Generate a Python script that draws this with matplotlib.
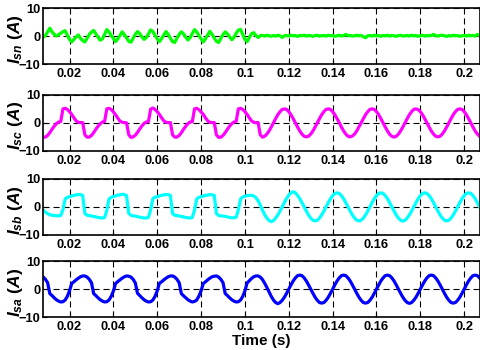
import numpy as np
import matplotlib
matplotlib.use('Agg')
import matplotlib.pyplot as plt

plt.rcParams['font.family'] = ['Liberation Sans', 'DejaVu Sans']
plt.rcParams['font.weight'] = 'bold'
plt.rcParams['mathtext.fontset'] = 'custom'
plt.rcParams['mathtext.it'] = 'Liberation Sans:bold:italic'
plt.rcParams['mathtext.rm'] = 'Liberation Sans:bold'
plt.rcParams['mathtext.bf'] = 'Liberation Sans:bold'

# sample times (s), 1 ms apart, 0.007 ... 0.207
time_s = np.round(np.arange(0.007, 0.2075, 0.001), 3)

# neutral current (A)
i_sn = [
    -0.3, -0.4, 0.2, 1.5, 2.8, 1.5, 0.6, 0.0, 0.5, 1.0, 1.6, 1.9, 0.3,        # 0.007-0.019
    -1.2, -2.1, -1.2, -0.3, 0.4, -0.8, -1.6, -2.1, -0.8, 0.6,                 # 0.020-0.029
    1.4, 2.0, 0.8, -0.4, -1.5, -1.0, 0.6, 2.3, 1.5, 0.2,                      # 0.030-0.039
    -0.8, -2.0, -1.0, 0.2, 1.5, 0.5, -0.6, -1.9, -2.2, -0.8,                  # 0.040-0.049
    0.6, 1.6, 0.9, -0.3, -1.2, -0.6, 0.8, 2.2, 1.6, 0.3,                      # 0.050-0.059
    -1.0, -2.0, -0.9, 0.4, 1.6, 0.6, -0.8, -2.0, -2.3, -0.7,                  # 0.060-0.069
    0.6, 1.5, 0.8, -0.4, -1.4, -0.6, 0.9, 2.3, 1.5, 0.2,                      # 0.070-0.079
    -1.0, -2.1, -1.0, 0.4, 1.7, 0.6, -0.7, -1.9, -2.3, -0.8,                  # 0.080-0.089
    0.5, 1.5, 0.8, -0.3, -1.3, -0.5, 1.0, 2.1, 2.4, 0.6,                      # 0.090-0.099
    -1.2, -2.0, -0.5, 0.8, 1.2, 0.2, -0.5, 0.1,                               # 0.100-0.107
    0.2, 0.0, 0.3, 0.1, -0.1, 0.2, 0.0, 0.3, 0.1, -0.5,                       # 0.108-0.117
    0.1, 0.2, 0.0, 0.3, 0.1, 0.2, -0.1, 0.2, 0.1, 0.3,
    0.0, 0.2, 0.1, -0.1, 0.2, 0.3, 0.0, 0.1, 0.2, 0.0,
    0.3, 0.1, 0.2, -0.1, 0.1, 0.3, 0.0, 0.2, 0.6, 0.1,
    0.2, 0.0, 0.1, 0.3, 0.1, 0.2, -0.2, -0.6, 0.1, 0.2,
    0.0, 0.3, 0.1, 0.2, -0.1, 0.2, 0.1, 0.3, 0.0, 0.2,
    0.1, -0.1, 0.2, 0.3, 0.0, 0.1, 0.2, 0.0, 0.3, 0.1,
    0.2, -0.1, 0.1, 0.3, 0.0, 0.2, 0.1, 0.2, 0.6, 0.1,
    0.0, 0.2, 0.3, 0.1, -0.1, 0.2, 0.0, 0.3, 0.1, 0.2,
    -0.1, 0.1, 0.2, 0.0, 0.3, 0.1, 0.2, 0.0, 0.6, 0.2,                        # 0.198-0.207
]

# phase c source current (A)
i_sc = [
    -4.6, -5.1, -5.1, -4.5, -3.5, -2.3, -1.2, -0.3, 0.3, 0.5, 5.0, 5.2, 4.8,  # 0.007-0.019
    4.0, 3.0, 1.8, 0.7, 0.2, 0.1, 0.1, -4.3, -5.1, -5.1, -4.5, -3.5, -2.3, -1.2, -0.3, 0.3, 0.5, 5.0, 5.2, 4.8,
    3.9, 2.9, 1.7, 0.6, 0.2, 0.1, 0.0, -4.2, -5.2, -5.0, -4.4, -3.4, -2.2, -1.1, -0.2, 0.3, 0.5, 4.9, 5.3, 4.8,
    4.0, 3.0, 1.8, 0.7, 0.2, 0.1, 0.1, -4.3, -5.1, -5.1, -4.5, -3.5, -2.3, -1.2, -0.3, 0.3, 0.4, 5.0, 5.2, 4.7,
    3.9, 3.0, 1.8, 0.7, 0.2, 0.1, 0.1, -4.3, -5.2, -5.1, -4.5, -3.5, -2.3, -1.2, -0.3, 0.3, 0.5, 5.0, 5.2, 4.8,
    4.0, 3.0, 1.8, 0.7, 0.2, 0.1, 0.1, -4.3, -5.1, -4.8, -4.0, -2.9, -1.5, 0.0, 1.5, 2.9, 4.0, 4.8, 5.0, 4.8,
    4.0, 2.9, 1.5, 0.0, -1.5, -2.9, -4.0, -4.8, -5.0, -4.8, -4.0, -2.9, -1.5, 0.0, 1.5, 2.9, 4.0, 4.8, 5.0, 4.8,
    4.0, 2.9, 1.5, 0.1, -1.5, -2.9, -4.0, -4.8, -5.0, -4.7, -4.0, -2.9, -1.4, 0.0, 1.5, 2.9, 4.0, 4.8, 5.0, 4.8,
    4.0, 2.9, 1.5, 0.0, -1.5, -2.9, -4.1, -4.8, -5.1, -4.8, -4.0, -2.9, -1.5, 0.0, 1.5, 2.9, 4.0, 4.8, 5.0, 4.7,
    4.0, 2.9, 1.5, 0.0, -1.5, -2.9, -4.0, -4.8, -5.0, -4.8, -4.0, -2.9, -1.5, 0.0, 1.5, 2.9, 4.0, 4.8, 5.0, 4.8,
    4.0, 2.9, 1.5, 0.0, -1.5, -2.9, -4.0, -4.8,                               # 0.200-0.207
]

# phase b source current (A)
i_sb = [
    -0.5, -1.2, -1.9, -2.4, -2.8, -3.0, -3.1, -3.2, -3.2, -3.1, -1.0, 2.8, 3.4,  # 0.007-0.019
    3.6, 3.9, 4.1, 4.3, 4.4, 4.4, 4.1, -2.4, -3.0, -3.1, -3.3, -3.4, -3.6, -3.8, -3.9, -4.0, -3.8, -1.2, 2.8, 3.4,
    3.7, 3.9, 4.2, 4.3, 4.5, 4.4, 4.0, -2.3, -3.0, -3.2, -3.3, -3.5, -3.7, -3.8, -4.0, -4.0, -3.7, -1.0, 2.9, 3.5,
    3.6, 3.9, 4.1, 4.3, 4.4, 4.4, 4.1, -2.4, -3.0, -3.1, -3.3, -3.4, -3.6, -3.8, -3.9, -4.0, -3.8, -1.2, 2.8, 3.4,
    3.6, 3.9, 4.1, 4.2, 4.4, 4.3, 4.1, -2.4, -3.1, -3.2, -3.3, -3.4, -3.6, -3.8, -3.9, -3.9, -3.7, -1.1, 2.8, 3.5,
    3.8, 4.0, 4.1, 4.1, 3.9, 3.3, 2.2, 0.6, -1.2, -2.8, -4.0, -4.9, -5.3, -4.9, -4.0, -2.9, -1.5, 0.0, 1.6, 3.0,
    4.2, 5.0, 5.4, 5.0, 4.1, 2.9, 1.5, 0.0, -1.5, -2.9, -4.0, -4.8, -5.0, -4.8, -4.0, -2.9, -1.5, 0.0, 1.5, 2.9,
    4.0, 4.8, 5.0, 4.8, 4.0, 2.9, 1.5, 0.0, -1.5, -2.9, -4.0, -4.8, -5.0, -4.8, -4.0, -2.9, -1.5, 0.0, 1.5, 2.9,
    4.0, 4.8, 5.0, 4.8, 4.0, 2.9, 1.5, 0.0, -1.5, -2.9, -4.0, -4.8, -5.1, -4.8, -4.0, -2.9, -1.5, 0.0, 1.5, 2.9,
    4.0, 4.8, 5.0, 4.8, 4.0, 2.9, 1.5, 0.0, -1.5, -2.9, -4.0, -4.8, -5.0, -4.8, -4.0, -2.9, -1.5, 0.0, 1.5, 2.9,
    4.0, 4.8, 5.0, 4.8, 4.0, 2.9, 1.5, 0.0,                                   # 0.200-0.207
]

# phase a source current (A)
i_sa = [
    4.7, 4.3, 3.5, 2.3, -1.6, -2.3, -3.1, -3.8, -4.3, -4.6, -4.5, -3.9, -2.6,  # 0.007-0.019
    -0.6, 2.0, 2.6, 3.3, 3.9, 4.4, 4.7, 4.7, 4.3, 3.5, 2.3, -1.6, -2.3, -3.1, -3.8, -4.3, -4.6, -4.5, -3.9, -2.6,
    -0.7, 2.0, 2.7, 3.3, 3.9, 4.4, 4.7, 4.6, 4.3, 3.5, 2.2, -1.5, -2.3, -3.1, -3.8, -4.3, -4.6, -4.5, -3.9, -2.6,
    -0.6, 2.1, 2.6, 3.3, 3.9, 4.4, 4.7, 4.7, 4.3, 3.5, 2.3, -1.6, -2.4, -3.1, -3.8, -4.3, -4.6, -4.4, -3.9, -2.5,
    -0.6, 2.0, 2.6, 3.3, 3.9, 4.4, 4.6, 4.7, 4.3, 3.5, 2.3, -1.6, -2.3, -3.1, -3.8, -4.3, -4.6, -4.5, -3.9, -2.6,
    -0.6, 2.2, 3.0, 3.8, 4.4, 4.7, 4.7, 4.3, 3.4, 2.1, 0.6, -1.0, -2.6, -3.9, -4.8, -5.2, -4.8, -4.0, -2.9, -1.5,
    0.0, 1.5, 2.9, 4.0, 4.8, 5.0, 4.8, 4.0, 2.9, 1.5, 0.0, -1.5, -2.9, -4.0, -4.8, -5.0, -4.8, -4.0, -2.9, -1.5,
    0.0, 1.5, 2.9, 4.0, 4.8, 5.0, 4.8, 4.0, 2.9, 1.5, 0.0, -1.5, -2.9, -4.0, -4.8, -5.0, -4.8, -4.0, -2.9, -1.5,
    0.0, 1.5, 2.9, 4.0, 4.8, 5.0, 4.8, 4.0, 2.9, 1.5, 0.0, -1.5, -2.9, -4.0, -4.8, -5.1, -4.8, -4.0, -2.9, -1.5,
    0.0, 1.5, 2.9, 4.0, 4.8, 5.0, 4.8, 4.0, 2.9, 1.5, 0.0, -1.5, -2.9, -4.0, -4.8, -5.0, -4.8, -4.0, -2.9, -1.5,
    0.0, 1.5, 2.9, 4.0, 4.8, 5.0, 4.8, 4.0,                                   # 0.200-0.207
]

x_ticks = [0.02, 0.04, 0.06, 0.08, 0.1, 0.12, 0.14, 0.16, 0.18, 0.2]
x_tick_labels = ['0.02', '0.04', '0.06', '0.08', '0.1', '0.12', '0.14', '0.16', '0.18', '0.2']
y_ticks = [-10, 0, 10]

panels = [
    (i_sn, '#00ff00', r'$I_{sn}\ (A)$'),
    (i_sc, '#ff00ff', r'$I_{sc}\ (A)$'),
    (i_sb, '#00ffff', r'$I_{sb}\ (A)$'),
    (i_sa, '#0000ff', r'$I_{sa}\ (A)$'),
]

# axes boxes in figure fractions (left, bottom, width, height)
bottoms = [0.817, 0.569, 0.329, 0.094]
LEFT, WIDTH, HEIGHT = 0.0894, 0.9085, 0.160

fig = plt.figure(figsize=(4.81, 3.5), dpi=100)
for (values, color, label), bottom in zip(panels, bottoms):
    assert len(values) == len(time_s)
    ax = fig.add_axes([LEFT, bottom, WIDTH, HEIGHT])
    ax.plot(time_s, values, color=color, lw=2.3, solid_joinstyle='round')
    ax.set_xlim(0.0079, 0.2072)
    ax.set_ylim(-10, 10)
    ax.set_xticks(x_ticks)
    ax.set_xticklabels(x_tick_labels)
    ax.set_yticks(y_ticks)
    ax.grid(True, color='k', linestyle=(0, (5.5, 3.5)), lw=0.8)
    ax.tick_params(direction='in', length=3, width=0.8, labelsize=9.3, pad=3)
    ax.tick_params(axis='y', pad=2)
    for lab in ax.get_xticklabels() + ax.get_yticklabels():
        lab.set_fontweight('bold')
    for sp in ax.spines.values():
        sp.set_linewidth(1.2)
    yl = ax.set_ylabel(label, fontsize=12.5)
    yl.set_verticalalignment('center')
    ax.yaxis.set_label_coords(-0.064, 0.45)

ax.set_xlabel('Time (s)', fontsize=11, fontweight='bold', labelpad=0.5)

fig.savefig('out.png', dpi=100)
